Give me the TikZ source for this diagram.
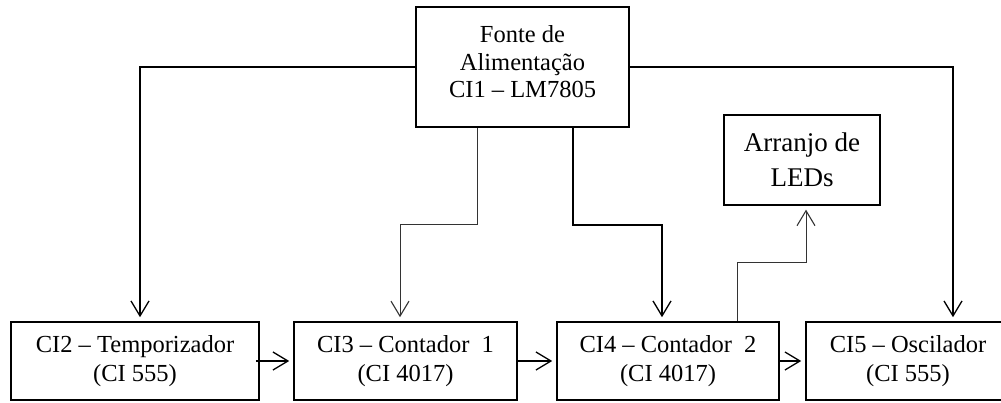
\documentclass[tikz,border=0pt]{standalone}
\usepackage{fontspec}
\setmainfont{Liberation Serif}
\usetikzlibrary{arrows.meta}
\begin{document}
\begin{tikzpicture}[x=1pt,y=-1pt,
  blk/.style={draw,line width=1.6pt,align=center,inner sep=0pt,
    font=\fontsize{24.5}{29.5}\selectfont},
  txt/.style={align=center,inner sep=0pt,font=\fontsize{24.5}{27.5}\selectfont},
  conn/.style={line width=1.4pt,-{Straight Barb[length=15pt,width=18pt,line width=1.3pt]},shorten >=4pt},
  thinconn/.style={line width=0.9pt,draw=black!80,-{Straight Barb[length=15pt,width=18pt,line width=1.1pt]},shorten >=4pt}]
\path[use as bounding box,clip] (0,0) rectangle (1001,402);
\node[blk,minimum width=213pt,minimum height=120pt] (top) at (522.5,67) {};
\node[txt] (toptext) at (522.5,62) {Fonte de\\Alimentação\\CI1 -- LM7805};
\node[blk,minimum width=156pt,minimum height=90pt,line width=1.3pt,
  font=\fontsize{27}{35}\selectfont] (leds) at (802,160) {Arranjo de\\LEDs};
\node[blk,minimum width=248pt,minimum height=78pt] (ci2) at (135,361)
  {CI2 -- Temporizador\\(CI 555)};
\node[blk,minimum width=223pt,minimum height=78pt] (ci3) at (405.5,361)
  {CI3 -- Contador~~1\\(CI 4017)};
\node[blk,minimum width=222pt,minimum height=78pt] (ci4) at (668,361)
  {CI4 -- Contador~~2\\(CI 4017)};
\node[blk,minimum width=204pt,minimum height=78pt] (ci5) at (908,361)
  {CI5 -- Oscilador\\(CI 555)};
\draw[conn] (top.west) -| ([xshift=5pt]ci2.north);
\draw[conn] (top.east) -| ([xshift=45pt]ci5.north);
\draw[thinconn] ([xshift=-45.5pt]top.south) -- ++(0,97) -| ([xshift=-5.5pt]ci3.north);
\draw[conn] ([xshift=50.5pt]top.south) -- ++(0,97) -| ([xshift=-6pt]ci4.north);
\draw[thinconn] ([xshift=69pt]ci4.north) -- ++(0,-59) -| ([xshift=4pt]leds.south);
\draw[conn] ([xshift=-4pt]ci2.east) -- (ci3.west);
\draw[conn] (ci3.east) -- (ci4.west);
\draw[conn] (ci4.east) -- (ci5.west);
\end{tikzpicture}
\end{document}
